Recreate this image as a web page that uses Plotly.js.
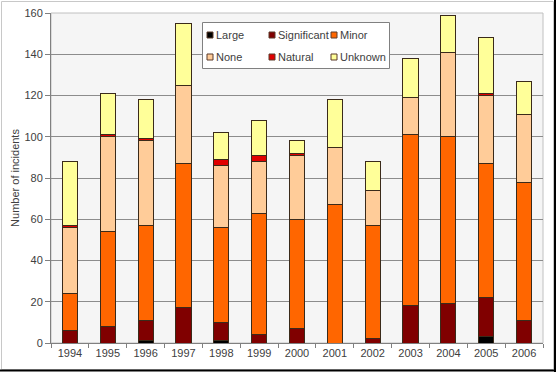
<!DOCTYPE html>
<html>
<head>
<meta charset="utf-8">
<script src="https://cdn.plot.ly/plotly-3.0.1.min.js"></script>
<style>
html,body{margin:0;padding:0;background:#ffffff;}
#chart{width:556px;height:372px;}
</style>
</head>
<body>
<div id="chart"></div>
<script>
var years = ['1994','1995','1996','1997','1998','1999','2000','2001','2002','2003','2004','2005','2006'];
var seriesNames = ['Large', 'Significant', 'Minor', 'None', 'Natural', 'Unknown'];
var seriesColors = ['#000000', '#800000', '#FF6600', '#FFCC99', '#E00000', '#FFFF99'];
var large       = [0, 0, 1, 0, 1, 0, 0, 0, 0, 0, 0, 3, 0];
var significant = [6, 8, 10, 17, 9, 4, 7, 0, 2, 18, 19, 19, 11];
var minor       = [18, 46, 46, 70, 46, 59, 53, 67, 55, 83, 81, 65, 67];
var none        = [32, 46, 41, 38, 30, 25, 31, 28, 17, 18, 41, 33, 33];
var natural     = [1, 1, 1, 0, 3, 3, 1, 0, 0, 0, 0, 1, 0];
var unknown     = [31, 20, 19, 30, 13, 17, 6, 23, 14, 19, 18, 27, 16];
var yTicks = [0, 20, 40, 60, 80, 100, 120, 140, 160];
var seriesValues = [large, significant, minor, none, natural, unknown];

var data = seriesNames.map(function (name, i) {
  return {
    type: 'bar', name: name, x: years, y: seriesValues[i],
    marker: {color: seriesColors[i], line: {color: '#3a2a1a', width: 1}},
    showlegend: false, hoverinfo: 'x+y+name'
  };
});

var L = 51, R = 13, T = 13, B = 29;
var W = 556 - L - R, H = 372 - T - B;
function px(x) { return (x - L) / W; }
function py(y) { return (372 - B - y) / H; }

var shapes = [
  {type: 'rect', xref: 'paper', yref: 'paper', x0: 0, x1: 1, y0: 0, y1: 1,
   line: {color: '#c0c0c0', width: 1}, layer: 'below'},
  {type: 'rect', xref: 'paper', yref: 'paper', x0: px(202.5), x1: px(389.5), y0: py(68.5), y1: py(22.5),
   fillcolor: '#ffffff', line: {color: '#808080', width: 1}, layer: 'above'},
  {type: 'rect', xref: 'paper', yref: 'paper', x0: px(1.5), x1: px(553.5), y0: py(369.5), y1: py(1.5),
   line: {color: '#c8c8c8', width: 1}},
  {type: 'line', xref: 'paper', yref: 'paper', x0: px(0), x1: px(556), y0: py(370.5), y1: py(370.5),
   line: {color: '#000000', width: 2}},
  {type: 'line', xref: 'paper', yref: 'paper', x0: px(555), x1: px(555), y0: py(0), y1: py(372),
   line: {color: '#000000', width: 2}}
];
var annotations = [];

// legend: 3 columns x 2 rows
var colX = [207, 269, 331];
var rowY = [35, 57];
seriesNames.forEach(function (name, i) {
  var cx = colX[i % 3], cy = rowY[Math.floor(i / 3)];
  shapes.push({type: 'rect', xref: 'paper', yref: 'paper',
    x0: px(cx), x1: px(cx + 6), y0: py(cy + 3), y1: py(cy - 3),
    fillcolor: seriesColors[i], line: {color: '#5a3a2a', width: 1}, layer: 'above'});
  annotations.push({xref: 'paper', yref: 'paper', x: px(cx + 7), y: py(cy),
    xanchor: 'left', yanchor: 'middle', showarrow: false, text: name,
    font: {family: 'Liberation Sans, Arial, sans-serif', size: 11, color: '#404040'}});
});

var layout = {
  width: 556, height: 372,
  margin: {l: L, r: R, t: T, b: B, pad: 0},
  paper_bgcolor: '#ffffff',
  plot_bgcolor: '#f5f5f5',
  barmode: 'stack',
  bargap: 0.6,
  showlegend: false,
  font: {family: 'Liberation Sans, Arial, sans-serif', size: 11, color: '#404040'},
  xaxis: {
    type: 'category',
    showgrid: false,
    tickson: 'boundaries',
    ticks: 'outside', ticklen: 4, tickcolor: '#808080',
    showline: true, linecolor: '#808080', linewidth: 1,
    tickfont: {size: 11, color: '#404040'}
  },
  yaxis: {
    range: [0, 160],
    tickvals: yTicks,
    showgrid: true, gridcolor: '#8c8c8c', gridwidth: 1,
    zeroline: false,
    ticks: 'outside', ticklen: 5, tickcolor: '#808080',
    showline: true, linecolor: '#808080', linewidth: 1,
    tickfont: {size: 11, color: '#404040'},
    title: {text: 'Number of incidents', font: {size: 11, color: '#404040'}, standoff: 2}
  },
  shapes: shapes,
  annotations: annotations
};

Plotly.newPlot('chart', data, layout, {displayModeBar: false, staticPlot: true});
</script>
</body>
</html>
